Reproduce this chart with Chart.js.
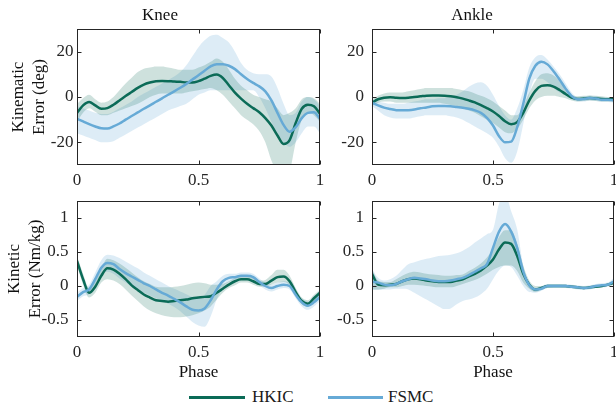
<!DOCTYPE html>
<html>
<head>
<meta charset="utf-8">
<script src="https://cdn.jsdelivr.net/npm/chart.js@4.4.1/dist/chart.umd.min.js"></script>
<style>
  body { margin: 0; background: #fff; }
  #wrap { position: relative; width: 616px; height: 406px; overflow: hidden; }
  canvas { position: absolute; }
  .key { position: absolute; font-family: 'Liberation Serif', serif; font-size: 17px; line-height: 20px; color: #1a1a1a; }
  .swatch { position: absolute; height: 3px; }
</style>
</head>
<body>
<div id="wrap">
  <canvas id="knee-kin" width="330" height="192" style="left:0;top:0"></canvas>
  <canvas id="ankle-kin" width="286" height="192" style="left:330px;top:0"></canvas>
  <canvas id="knee-ket" width="330" height="194" style="left:0;top:192px"></canvas>
  <canvas id="ankle-ket" width="286" height="194" style="left:330px;top:192px"></canvas>
  <!-- legend -->
  <div class="swatch" style="left:189px;top:396px;width:56px;background:#0b6b57"></div>
  <div class="key" style="left:252px;top:387px">HKIC</div>
  <div class="swatch" style="left:328px;top:396px;width:55px;background:#66aad6"></div>
  <div class="key" style="left:388px;top:387px">FSMC</div>
</div>
<script>
// gait phase samples
const phase = [0, 0.025, 0.05, 0.075, 0.1, 0.125, 0.15, 0.175, 0.2, 0.225, 0.25, 0.275, 0.3, 0.325, 0.35, 0.375, 0.4, 0.425, 0.45, 0.475,
  0.5, 0.525, 0.55, 0.575, 0.6, 0.625, 0.65, 0.675, 0.7, 0.725, 0.75, 0.775, 0.8, 0.825, 0.85, 0.875, 0.9, 0.925, 0.95, 0.975, 1];
const xTicks = [0, 0.5, 1];
const kinTicks = [-20, 0, 20];
const ketTicks = [-0.5, 0, 0.5, 1];

// Knee kinematic error (deg)
const kneeKinHK = [-7, -3.7, -2.2, -3.7, -5.2, -4.9, -3.4, -1.5, 0.4, 2.2, 4, 5.5, 6.4, 7, 7.1, 7, 6.8, 6.7, 6.4, 6.4,
  7, 8.1, 9.3, 9.9, 8.4, 5.2, 1.9, -0.7, -3, -4.9, -6.7, -9.3, -12.6, -17, -20.7, -19, -11.5, -5.2, -3.4, -4.1, -7.4];
const kneeKinHKLo = [-11, -7, -5, -6.5, -8, -8, -7, -6, -5, -4, -3, -1.5, 0, 1, 1.5, 1.5, 1.5, 1.5, 2, 2.5,
  3, 3.5, 4, 3, 1, -2, -5, -8, -10, -12, -15, -20, -28, -33, -36, -33, -20, -10, -7, -8, -11];
const kneeKinHKHi = [-3, -0.5, 1, -1, -2.5, -2, 0, 3, 6, 8.5, 11, 12.5, 13, 13.5, 13.5, 13, 12.5, 12, 12, 12,
  13, 14, 15.5, 17, 15.5, 12, 8, 5, 3, 1, 0, -1, -2, -5, -8, -7, -5, -1, 0, -0.5, -3];
const kneeKinFS = [-9.6, -10.8, -12, -13, -13.8, -13.9, -13, -11.7, -10, -8.4, -6.8, -5.2, -3.7, -2.1, -0.6, 1, 2.5, 4.1, 5.8, 7.7,
  9.6, 11.6, 13.5, 14.5, 14.5, 13.8, 12.3, 10, 7.9, 6.2, 4.7, 2.5, -1.5, -7, -12.3, -15.3, -13.3, -9.3, -7, -6.7, -9.6];
const kneeKinFSLo = [-16, -17, -18, -19, -20, -20, -19.5, -18, -16.5, -15, -13.5, -12, -10.5, -9, -7.5, -6, -5, -4, -3, -1,
  1, 2, 3, 3, 3, 3, 3, 3, 3, 3, 0, -5, -11, -16, -20, -22, -20, -16, -13, -13, -16];
const kneeKinFSHi = [-4, -5, -6, -7, -7.5, -7.5, -6.5, -5, -3.5, -2, 0, 1.5, 3, 4.5, 6, 7.5, 9, 11, 14, 18,
  22, 25, 27, 27.5, 26, 24, 20, 15, 12, 10.5, 10, 10, 9, 4, -3, -8, -7, -2, 0, -1, -4];

// Ankle kinematic error (deg)
const ankleKinHK = [-2.5, -1, -0.3, -0.1, -0.3, -0.4, -0.3, 0, 0.3, 0.6, 0.7, 0.7, 0.6, 0.3, -0.1, -0.7, -1.5, -2.4, -3.6, -4.9,
  -6.4, -8.4, -10.7, -12, -11.1, -7, -1.5, 2.7, 4.9, 5.2, 4.6, 3.1, 1.3, -0.3, -0.9, -0.7, -0.4, -0.7, -0.9, -1, -1];
const ankleKinHKLo = [-4, -2.5, -2, -2, -2.5, -2.5, -2.5, -2.5, -2.5, -2.5, -2.5, -2.5, -3, -3.5, -4, -5, -6, -7, -8.5, -10,
  -11.5, -13.5, -15.5, -16, -14, -10, -5, -1.5, 0, 0.5, 0.5, 0, -0.5, -1.5, -2, -1.8, -1.5, -1.8, -2, -2, -2];
const ankleKinHKHi = [-1, 0.5, 1.5, 2, 2, 2, 2.5, 3, 3.5, 4, 4, 4, 4, 4, 3.5, 3, 2.5, 1.5, 0.5, -0.5,
  -2, -4, -6, -8, -8, -4, 2, 7, 10, 10.5, 9.5, 7, 3.5, 1, 0.3, 0.5, 0.7, 0.5, 0.3, 0, 0];
const ankleKinFS = [-2.5, -3.7, -4.7, -5.3, -5.8, -5.9, -5.8, -5.5, -5, -4.6, -4.1, -4, -4, -4.1, -4.4, -4.7, -5.2, -5.9, -7, -9.2,
  -12.6, -17.3, -20, -19.7, -13.3, -3, 8.1, 13.8, 15.6, 14.4, 11.4, 7.7, 3.7, 0.4, -1, -0.9, -0.4, -0.7, -1.2, -1.2, -1.5];
const ankleKinFSLo = [-4, -6, -8, -9, -9.5, -9.5, -9.5, -9, -8.5, -8, -8, -8, -8, -8.5, -9, -10, -11.5, -13, -14.5, -16,
  -18, -22, -27, -29, -24, -12, 1, 8, 8, 6.5, 4, 2, 1, -1, -2, -2, -1.5, -1.8, -2.2, -2.2, -2.5];
const ankleKinFSHi = [-1, -2, -2.5, -3, -3, -3, -2.5, -2, -1.5, -1, -1, -0.5, -0.5, 0, 1, 2.5, 4.5, 6, 6.5, 5,
  1, -4, -8, -10, -5, 3, 13, 17.5, 18.5, 16.5, 13.5, 10, 6, 2, 0, 0.2, 0.7, 0.4, -0.2, -0.2, -0.5];

// Knee kinetic error (Nm/kg)
const kneeKetHK = [0.37, 0.1, -0.1, -0.01, 0.15, 0.26, 0.24, 0.18, 0.1, 0.01, -0.06, -0.125, -0.17, -0.21, -0.22, -0.23, -0.22, -0.21, -0.2, -0.18,
  -0.17, -0.16, -0.15, -0.1, -0.04, 0.02, 0.07, 0.1, 0.1, 0.07, 0.03, 0.03, 0.08, 0.13, 0.14, 0.07, -0.09, -0.22, -0.26, -0.18, -0.1];
const kneeKetHKLo = [0.3, 0.02, -0.17, -0.1, 0.05, 0.1, 0.08, 0.03, -0.05, -0.14, -0.22, -0.3, -0.36, -0.4, -0.43, -0.45, -0.46, -0.46, -0.45, -0.43,
  -0.4, -0.36, -0.3, -0.2, -0.1, -0.03, 0.01, 0.05, 0.05, 0.02, -0.01, -0.01, 0.02, 0.05, 0.06, 0.01, -0.14, -0.27, -0.31, -0.23, -0.15];
const kneeKetHKHi = [0.44, 0.18, -0.03, 0.08, 0.26, 0.4, 0.38, 0.33, 0.27, 0.2, 0.13, 0.07, 0.03, -0.01, -0.02, -0.02, -0.01, 0, 0.02, 0.04,
  0.05, 0.04, 0.02, 0.02, 0.03, 0.07, 0.12, 0.15, 0.15, 0.12, 0.08, 0.09, 0.16, 0.24, 0.24, 0.15, -0.03, -0.17, -0.21, -0.13, -0.05];
const kneeKetFS = [-0.16, -0.09, -0.05, 0.1, 0.27, 0.34, 0.32, 0.25, 0.19, 0.14, 0.09, 0.04, 0, -0.05, -0.1, -0.14, -0.19, -0.24, -0.3, -0.35,
  -0.36, -0.33, -0.21, -0.05, 0.07, 0.12, 0.13, 0.15, 0.15, 0.13, 0.06, 0, -0.03, 0, 0.02, 0, -0.13, -0.24, -0.29, -0.24, -0.16];
const kneeKetFSLo = [-0.22, -0.15, -0.12, 0.02, 0.16, 0.21, 0.18, 0.11, 0.05, -0.01, -0.06, -0.1, -0.14, -0.18, -0.22, -0.26, -0.31, -0.37, -0.45, -0.53,
  -0.58, -0.6, -0.45, -0.2, -0.02, 0.06, 0.08, 0.1, 0.1, 0.08, 0.01, -0.05, -0.08, -0.05, -0.03, -0.05, -0.18, -0.3, -0.35, -0.3, -0.22];
const kneeKetFSHi = [-0.1, -0.03, 0.02, 0.2, 0.38, 0.46, 0.45, 0.41, 0.36, 0.31, 0.26, 0.2, 0.15, 0.1, 0.05, 0, -0.04, -0.08, -0.12, -0.16,
  -0.17, -0.13, 0, 0.07, 0.15, 0.18, 0.18, 0.2, 0.2, 0.18, 0.11, 0.05, 0.02, 0.05, 0.07, 0.05, -0.08, -0.18, -0.23, -0.18, -0.1];

// Ankle kinetic error (Nm/kg)
const ankleKetHK = [0.18, 0.02, 0.01, 0.02, 0.03, 0.07, 0.1, 0.11, 0.1, 0.08, 0.07, 0.06, 0.06, 0.06, 0.08, 0.1, 0.14, 0.18, 0.23, 0.3,
  0.39, 0.54, 0.64, 0.62, 0.44, 0.18, 0.02, -0.05, -0.03, 0, 0, 0, 0, -0.01, -0.02, -0.03, -0.02, -0.01, 0, 0.02, 0.05];
const ankleKetHKLo = [-0.05, -0.05, -0.04, -0.02, -0.02, 0, 0.02, 0.02, 0.01, 0, -0.01, -0.02, -0.02, -0.02, 0, 0.03, 0.06, 0.09, 0.13, 0.18,
  0.24, 0.28, 0.3, 0.3, 0.22, 0.05, -0.04, -0.09, -0.06, -0.03, -0.02, -0.02, -0.025, -0.03, -0.04, -0.05, -0.04, -0.03, -0.02, 0, 0.02];
const ankleKetHKHi = [0.25, 0.08, 0.06, 0.06, 0.1, 0.15, 0.19, 0.21, 0.2, 0.18, 0.17, 0.16, 0.15, 0.15, 0.16, 0.17, 0.22, 0.27, 0.33, 0.42,
  0.54, 0.72, 0.82, 0.82, 0.62, 0.3, 0.08, 0, 0, 0.02, 0.02, 0.02, 0.015, 0.01, 0, -0.01, 0, 0.01, 0.02, 0.04, 0.08];
const ankleKetFS = [0.06, 0.05, 0.02, 0.01, 0.03, 0.07, 0.1, 0.12, 0.11, 0.1, 0.08, 0.07, 0.07, 0.08, 0.1, 0.12, 0.16, 0.21, 0.26, 0.32,
  0.56, 0.8, 0.91, 0.8, 0.56, 0.21, 0.01, -0.05, -0.04, 0, 0, 0, 0, -0.01, -0.02, -0.03, -0.02, 0, 0.01, 0.02, 0.07];
const ankleKetFSLo = [-0.05, -0.06, -0.05, -0.05, -0.04, -0.04, -0.05, -0.1, -0.15, -0.2, -0.25, -0.3, -0.34, -0.33, -0.27, -0.22, -0.2, -0.17, -0.12, -0.04,
  0.1, 0.23, 0.3, 0.28, 0.15, 0, -0.09, -0.1, -0.07, -0.03, -0.03, -0.03, -0.03, -0.04, -0.05, -0.06, -0.05, -0.03, -0.02, -0.01, 0.02];
const ankleKetFSHi = [0.25, 0.12, 0.08, 0.1, 0.15, 0.24, 0.32, 0.35, 0.38, 0.4, 0.42, 0.44, 0.45, 0.46, 0.48, 0.52, 0.57, 0.64, 0.7, 0.76,
  0.83, 1.21, 1.35, 1.1, 0.83, 0.3, 0.03, -0.03, 0, 0.03, 0.03, 0.03, 0.03, 0.02, 0.01, 0, 0.01, 0.03, 0.04, 0.05, 0.12];

const HK_COLOR = '#0b6b57';
const FS_COLOR = '#66aad6';
const HK_BAND = 'rgba(11, 107, 87, 0.2)';
const FS_BAND = 'rgba(102, 170, 214, 0.22)';
const FONT = 'Liberation Serif';
const INK = '#262626';

Chart.defaults.font.family = FONT;
Chart.defaults.font.size = 17;

const xy = arr => phase.map((p, i) => ({ x: p, y: arr[i] }));

// box around the axes plus MATLAB style inward ticks
const framePlugin = {
    id: 'frame',
    afterDraw(chart) {
        const { ctx, chartArea: a, scales: { x, y } } = chart;
        const L = Math.round(a.left) + 0.5, R = Math.round(a.right) - 0.5;
        const T = Math.round(a.top) + 0.5, B = Math.round(a.bottom) - 0.5;
        ctx.save();
        ctx.strokeStyle = INK;
        ctx.lineWidth = 1;
        ctx.strokeRect(L, T, R - L, B - T);
        ctx.beginPath();
        x.ticks.forEach(t => {
            const px = Math.round(x.getPixelForValue(t.value)) + 0.5;
            ctx.moveTo(px, T); ctx.lineTo(px, T + 4);
            ctx.moveTo(px, B); ctx.lineTo(px, B - 4);
        });
        y.ticks.forEach(t => {
            const py = Math.round(y.getPixelForValue(t.value)) + 0.5;
            ctx.moveTo(L, py); ctx.lineTo(L + 4, py);
            ctx.moveTo(R, py); ctx.lineTo(R - 4, py);
        });
        ctx.stroke();
        ctx.restore();
    }
};

function line(data, color) {
    return { data: xy(data), borderColor: color, borderWidth: 2.5, pointRadius: 0, fill: false, cubicInterpolationMode: 'monotone' };
}
function edge(data, color, fill) {
    return { data: xy(data), borderColor: 'transparent', borderWidth: 0, pointRadius: 0, backgroundColor: color, fill: fill, cubicInterpolationMode: 'monotone' };
}

function panel(id, p) {
    const ctx = document.getElementById(id).getContext('2d');
    return new Chart(ctx, {
        type: 'line',
        data: {
            datasets: [
                line(p.fs, FS_COLOR),
                line(p.hk, HK_COLOR),
                edge(p.hkLo, HK_BAND, false),
                edge(p.hkHi, HK_BAND, '-1'),
                edge(p.fsLo, FS_BAND, false),
                edge(p.fsHi, FS_BAND, '-1'),
            ]
        },
        options: {
            responsive: false,
            animation: false,
            devicePixelRatio: 1,
            layout: { padding: p.pad },
            plugins: {
                legend: { display: false },
                tooltip: { enabled: false },
                filler: { drawTime: 'beforeDatasetsDraw' },
                title: {
                    display: !!p.title,
                    text: p.title,
                    color: '#111',
                    font: { size: 17, weight: 'normal' },
                    padding: { top: 5, bottom: 3.6 }
                }
            },
            scales: {
                x: {
                    type: 'linear', min: 0, max: 1,
                    afterBuildTicks: s => { s.ticks = xTicks.map(v => ({ value: v })); },
                    ticks: { color: INK, padding: 5.5, maxRotation: 0, autoSkip: false, callback: v => String(v) },
                    grid: { display: false, drawTicks: false },
                    border: { display: false },
                    title: { display: !!p.xTitle, text: p.xTitle, color: '#111', padding: { top: 0, bottom: 3 } },
                    afterFit: s => { s.height = p.xH; s.paddingLeft = 0; s.paddingRight = 0; }
                },
                y: {
                    min: p.yMin, max: p.yMax,
                    afterBuildTicks: s => { s.ticks = p.yTicks.map(v => ({ value: v })); },
                    ticks: { color: INK, padding: p.yPad, callback: v => String(v) },
                    grid: { display: false, drawTicks: false },
                    border: { display: false },
                    title: { display: !!p.yTitle, text: p.yTitle, color: '#111', font: { size: 17, lineHeight: 21 / 17 }, padding: { top: p.yTitlePad, bottom: 0 } },
                    afterFit: s => { s.width = p.yW; s.paddingTop = 0; s.paddingBottom = 0; }
                }
            }
        },
        plugins: [framePlugin]
    });
}

panel('knee-kin', {
    hk: kneeKinHK, hkLo: kneeKinHKLo, hkHi: kneeKinHKHi, fs: kneeKinFS, fsLo: kneeKinFSLo, fsHi: kneeKinFSHi,
    yMin: -30, yMax: 30, yTicks: kinTicks, title: 'Knee', yTitle: ['Kinematic', 'Error (deg)'], yTitlePad: 8.5,
    pad: { left: 0, right: 10, top: 0, bottom: 0 }, yW: 77, xH: 27, yPad: 3.5
});
panel('ankle-kin', {
    hk: ankleKinHK, hkLo: ankleKinHKLo, hkHi: ankleKinHKHi, fs: ankleKinFS, fsLo: ankleKinFSLo, fsHi: ankleKinFSHi,
    yMin: -30, yMax: 30, yTicks: kinTicks, title: 'Ankle',
    pad: { left: 0, right: 2, top: 0, bottom: 0 }, yW: 42, xH: 27, yPad: 8
});
panel('knee-ket', {
    hk: kneeKetHK, hkLo: kneeKetHKLo, hkHi: kneeKetHKHi, fs: kneeKetFS, fsLo: kneeKetFSLo, fsHi: kneeKetFSHi,
    yMin: -0.75, yMax: 1.25, yTicks: ketTicks, xTitle: 'Phase', yTitle: ['Kinetic', 'Error (Nm/kg)'], yTitlePad: 4.5,
    pad: { left: 0, right: 10, top: 9, bottom: 0 }, yW: 77, xH: 49, yPad: 8.5
});
panel('ankle-ket', {
    hk: ankleKetHK, hkLo: ankleKetHKLo, hkHi: ankleKetHKHi, fs: ankleKetFS, fsLo: ankleKetFSLo, fsHi: ankleKetFSHi,
    yMin: -0.75, yMax: 1.25, yTicks: ketTicks, xTitle: 'Phase',
    pad: { left: 0, right: 2, top: 9, bottom: 0 }, yW: 42, xH: 49, yPad: 8
});
</script>
</body>
</html>
